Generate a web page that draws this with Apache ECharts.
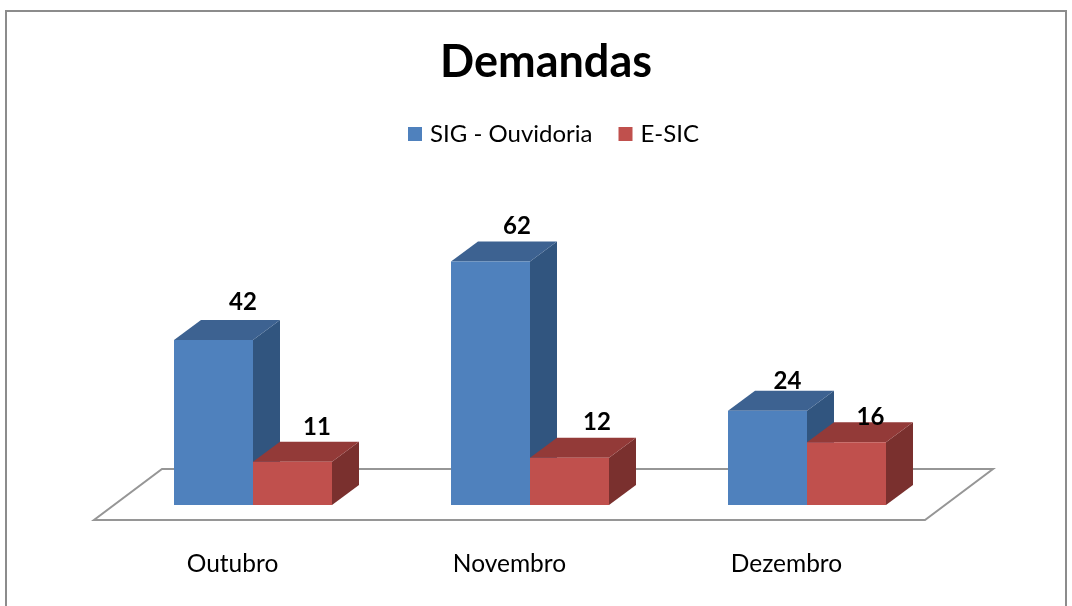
<!DOCTYPE html>
<html>
<head>
<meta charset="utf-8">
<title>Demandas</title>
<script src="https://cdn.jsdelivr.net/npm/echarts@6/dist/echarts.min.js"></script>
<style>
html,body{margin:0;padding:0;background:#fff;}
#chart{width:1072px;height:606px;}
</style>
</head>
<body>
<div id="chart"></div>
<script>
var months = ['Outubro', 'Novembro', 'Dezembro'];
var sigOuvidoria = [42, 62, 24];
var eSic = [11, 12, 16];

var FONT = 'Lato, "Open Sans", sans-serif';
var DEPTH_X = 27, DEPTH_Y = 20, BAR_W = 79, SHIFT_X = 20.5;

// the data labels in the picture do not sit at a constant distance from the bars
var labelOffsets = {
    blue: [[29.5, -38], [26.5, -35], [20, -29]],
    red: [[24.5, -35], [27.5, -36], [24, -25]]
};

function box(colors, seriesPos, offsets) {
    return function (params, api) {
        var i = api.value(0);
        var p = api.coord([i, api.value(1)]);
        var base = api.coord([i, 0]);
        var x0 = p[0] + SHIFT_X + seriesPos * BAR_W;
        var x1 = x0 + BAR_W;
        var top = p[1], bottom = base[1];
        var off = offsets[i];
        return {
            type: 'group',
            children: [
                { type: 'polygon', shape: { points: [[x1, top], [x1 + DEPTH_X, top - DEPTH_Y], [x1 + DEPTH_X, bottom - DEPTH_Y], [x1, bottom]] }, style: { fill: colors.side } },
                { type: 'polygon', shape: { points: [[x0, top], [x0 + DEPTH_X, top - DEPTH_Y], [x1 + DEPTH_X, top - DEPTH_Y], [x1, top]] }, style: { fill: colors.top } },
                { type: 'rect', shape: { x: x0, y: top, width: BAR_W, height: bottom - top }, style: { fill: colors.front } },
                { type: 'text', z2: 10, style: { x: (x0 + x1) / 2 + off[0], y: top + off[1], text: String(api.value(1)), align: 'center', verticalAlign: 'middle', fill: '#000', font: 'bold 24px ' + FONT } }
            ]
        };
    };
}

var chart = echarts.init(document.getElementById('chart'));
var option = {
    animation: false,
    backgroundColor: '#fff',
    title: {
        text: 'Demandas',
        left: 440, top: 40,
        padding: 0,
        textStyle: { fontFamily: FONT, fontWeight: 'bold', fontSize: 45, color: '#000' }
    },
    legend: {
        left: 403, top: 117,
        itemWidth: 14, itemHeight: 14, itemGap: 26,
        icon: 'rect',
        textStyle: { fontFamily: FONT, fontSize: 24, color: '#000', padding: [0, 0, 0, 3] },
        data: ['SIG - Ouvidoria', 'E-SIC']
    },
    grid: { left: 94, width: 831, top: 230, height: 275 },
    xAxis: {
        type: 'category',
        data: months,
        axisLine: { show: false },
        axisTick: { show: false },
        axisLabel: { margin: 47, fontFamily: FONT, fontSize: 24.5, color: '#000' }
    },
    yAxis: { type: 'value', min: 0, max: 70, show: false },
    graphic: [
        { type: 'rect', silent: true, z: -2, shape: { x: 6, y: 11, width: 1060, height: 620 }, style: { fill: '#fff', stroke: '#8c8c8c', lineWidth: 2 } },
        { type: 'polygon', silent: true, z: -1, shape: { points: [[94, 520], [925, 520], [993, 469], [162, 469]] }, style: { fill: '#fff', stroke: '#969696', lineWidth: 2 } }
    ],
    series: [
        {
            name: 'SIG - Ouvidoria',
            type: 'custom',
            itemStyle: { color: '#4f81bd' },
            encode: { x: 0, y: 1 },
            data: sigOuvidoria.map(function (v, i) { return [i, v]; }),
            renderItem: box({ front: '#4f81bd', top: '#3d6291', side: '#31557f' }, -1, labelOffsets.blue)
        },
        {
            name: 'E-SIC',
            type: 'custom',
            itemStyle: { color: '#c0504d' },
            encode: { x: 0, y: 1 },
            data: eSic.map(function (v, i) { return [i, v]; }),
            renderItem: box({ front: '#c0504d', top: '#933a38', side: '#7a302e' }, 0, labelOffsets.red)
        }
    ]
};
chart.setOption(option);
</script>
</body>
</html>
